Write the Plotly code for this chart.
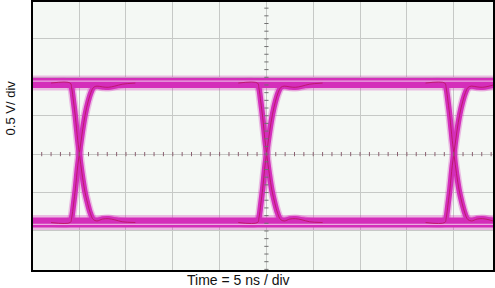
import numpy as np
import plotly.graph_objects as go

# ---- data ----
crossing_ns = [5.0, 25.0, 45.0]          # eye crossing times (ns)
high_v = 0.925                           # logic-high level (V)
low_v = -0.89                            # logic-low level (V)
high_trace_v = 0.95                      # pale inner trace in the high band
low_trace_v = -0.915                     # pale inner trace in the low band

# falling edge, relative to crossing time (ns, V)
fall_dt = [-3.0, -0.95, -0.8, -0.6, -0.4, -0.15, 0.05, 0.3, 0.6, 0.9, 1.2, 1.5, 1.9, 2.5, 3.1, 3.8, 4.6, 6.0]
fall_v = [0.925, 0.925, 0.86, 0.68, 0.48, 0.18, -0.02, -0.25, -0.48, -0.64, -0.77, -0.85, -0.87, -0.845, -0.84, -0.855, -0.88, -0.89]
# rising edge, relative to crossing time (ns, V)
rise_dt = [-3.0, -0.95, -0.8, -0.6, -0.4, -0.15, 0.1, 0.35, 0.65, 0.95, 1.25, 1.55, 1.9, 2.5, 3.1, 3.8, 4.6, 6.0]
rise_v = [-0.89, -0.89, -0.83, -0.65, -0.45, -0.15, 0.08, 0.3, 0.52, 0.68, 0.8, 0.87, 0.885, 0.875, 0.87, 0.885, 0.91, 0.925]

x_range = [0.07, 49.2]
y_range = [-1.508, 1.98]

MAG = "rgb(212,46,186)"
MAG_SOFT = "rgba(212,46,186,0.30)"
PALE = "rgba(236,185,228,0.9)"
DARK = "rgba(185,20,95,0.85)"

fig = go.Figure()

def add_line(x, y, color, width, shape="linear"):
    fig.add_trace(go.Scatter(x=x, y=y, mode="lines", hoverinfo="skip",
                             line=dict(color=color, width=width, shape=shape),
                             showlegend=False))

# level bands
for lv in (high_v, low_v):
    add_line(x_range, [lv, lv], MAG_SOFT, 15)
    add_line(x_range, [lv, lv], MAG, 10)

# edges
for tc in crossing_ns:
    for dts, vs in ((fall_dt, fall_v), (rise_dt, rise_v)):
        xs = [tc + d for d in dts]
        add_line(xs, vs, MAG_SOFT, 8.5, "spline")
        add_line(xs, vs, MAG, 5.5, "spline")

# pale inner traces in the bands
add_line(x_range, [high_trace_v] * 2, PALE, 1.2)
add_line(x_range, [low_trace_v] * 2, PALE, 1.2)

# dark cores on the edges
for tc in crossing_ns:
    for dts, vs in ((fall_dt, fall_v), (rise_dt, rise_v)):
        xs = [tc + d for d in dts]
        add_line(xs, vs, DARK, 1.0, "spline")

# graticule minor tick marks on the centre lines
cx = 25.0
tx = np.arange(0, 50, 1.0)
fig.add_trace(go.Scatter(x=tx, y=[0] * len(tx), mode="markers", hoverinfo="skip",
                         marker=dict(symbol="line-ns", size=3, line=dict(color="#8a6070", width=1)),
                         showlegend=False))
ty = np.arange(-1.5, 2.0, 0.1)
fig.add_trace(go.Scatter(x=[cx] * len(ty), y=ty, mode="markers", hoverinfo="skip",
                         marker=dict(symbol="line-ew", size=3, line=dict(color="#707070", width=1)),
                         showlegend=False))

axis_common = dict(showgrid=True, gridcolor="#C6C9C6", gridwidth=1, showticklabels=False,
                   zeroline=False, showline=True, linecolor="black", linewidth=1.5,
                   mirror=True, ticks="")
fig.update_xaxes(range=x_range, dtick=5, tick0=0, **axis_common)
fig.update_yaxes(range=y_range, dtick=0.5, tick0=0, **axis_common)

fig.update_layout(
    width=495, height=288,
    margin=dict(l=33, r=1, t=0, b=18),
    paper_bgcolor="white", plot_bgcolor="#F4F8F4",
    font=dict(family="Liberation Sans, Arial, sans-serif", size=12, color="#111"),
    annotations=[
        dict(text="Time = 5 ns / div", xref="paper", yref="paper", x=0.447, y=-0.036,
             xanchor="center", yanchor="middle", showarrow=False,
             font=dict(size=14, color="#111")),
        dict(text="0.5 V/ div", xref="paper", yref="paper", x=-0.05, y=0.603,
             xanchor="center", yanchor="middle", textangle=-90, showarrow=False,
             font=dict(size=13, color="#111")),
    ],
)

fig.write_html("out.html")
